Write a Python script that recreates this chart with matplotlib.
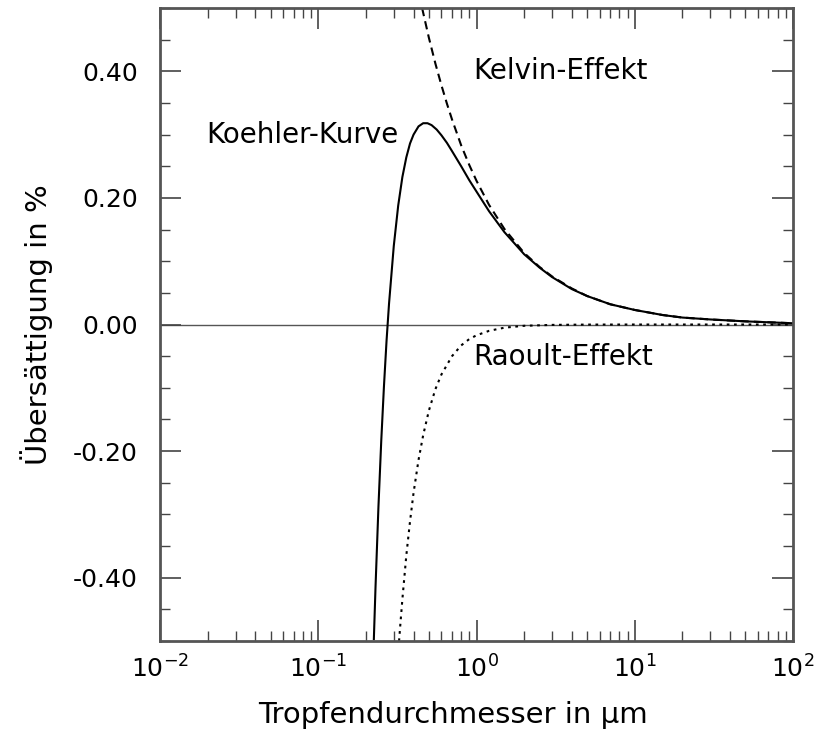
import matplotlib.pyplot as plt
from matplotlib.ticker import LogLocator, MultipleLocator, FuncFormatter

# droplet diameter (um) and supersaturation (%)
kelvin_d = [0.453, 0.5, 0.55, 0.6, 0.65, 0.7, 0.8, 0.9, 1.0, 1.2, 1.5, 2, 2.5, 3, 4, 5, 7,
            10, 15, 20, 30, 50, 100]
kelvin_s = [0.500, 0.453, 0.412, 0.378, 0.349, 0.324, 0.283, 0.252, 0.227, 0.189, 0.151,
            0.113, 0.091, 0.076, 0.057, 0.045, 0.032, 0.023, 0.015, 0.011, 0.008, 0.005, 0.002]

raoult_d = [0.324, 0.33, 0.34, 0.36, 0.38, 0.40, 0.43, 0.46, 0.5, 0.55, 0.6, 0.7, 0.8, 0.9,
            1.0, 1.2, 1.5, 2, 3, 5, 10, 100]
raoult_s = [-0.500, -0.474, -0.434, -0.365, -0.311, -0.266, -0.214, -0.175, -0.136, -0.102,
            -0.079, -0.050, -0.033, -0.023, -0.017, -0.010, -0.005, -0.002, -0.0006,
            -0.0001, 0.0, 0.0]

koehler_d = [0.2245, 0.23, 0.24, 0.25, 0.26, 0.27, 0.28, 0.30, 0.32, 0.34, 0.36, 0.38, 0.40,
             0.43, 0.46, 0.49, 0.52, 0.56, 0.60, 0.65, 0.70, 0.80, 0.90, 1.0, 1.2, 1.5, 2.0,
             2.5, 3, 4, 5, 7, 10, 15, 20, 30, 50, 100]
koehler_s = [-0.497, -0.415, -0.288, -0.184, -0.098, -0.026, 0.033, 0.124, 0.188, 0.233,
             0.264, 0.286, 0.300, 0.313, 0.318, 0.318, 0.315, 0.308, 0.299, 0.287, 0.274,
             0.250, 0.228, 0.210, 0.179, 0.146, 0.111, 0.090, 0.075, 0.056, 0.045, 0.032,
             0.023, 0.015, 0.011, 0.008, 0.005, 0.002]

plt.rcParams['font.family'] = ['DejaVu Sans']

fig = plt.figure(figsize=(8.14, 7.48), dpi=100)
ax = fig.add_axes([0.1966, 0.1430, 0.7776, 0.8463])

ax.axhline(0, color='#555555', lw=1.0, zorder=1)
ax.plot(kelvin_d, kelvin_s, color='black', lw=1.5, linestyle=(0, (4, 2.5)))
ax.plot(raoult_d, raoult_s, color='black', lw=1.5, linestyle=(0, (1.3, 2.2)))
ax.plot(koehler_d, koehler_s, color='black', lw=1.5)

ax.set_xscale('log')
ax.set_xlim(1e-2, 1e2)
ax.set_ylim(-0.5, 0.5)

ax.xaxis.set_major_locator(LogLocator(base=10, numticks=10))
ax.xaxis.set_minor_locator(LogLocator(base=10, subs=range(2, 10), numticks=20))
ax.yaxis.set_major_locator(MultipleLocator(0.2))
ax.yaxis.set_minor_locator(MultipleLocator(0.05))
ax.yaxis.set_major_formatter(FuncFormatter(lambda v, p: f"{v:.2f}"))

ax.tick_params(which='both', direction='in', top=True, right=True, colors='#444444',
               labelcolor='black', labelsize=18)
ax.tick_params(which='major', length=15, width=1.2)
ax.tick_params(which='minor', length=7, width=1.0)
ax.tick_params(axis='y', which='major', pad=16)
ax.tick_params(axis='x', which='major', pad=10)
for s in ax.spines.values():
    s.set_color('#555555')
    s.set_linewidth(2)

ax.text(0.957, 0.40, "Kelvin-Effekt", fontsize=20, va='center', ha='left')
ax.text(0.0196, 0.299, "Koehler-Kurve", fontsize=20, va='center', ha='left')
ax.text(0.957, -0.051, "Raoult-Effekt", fontsize=20, va='center', ha='left')

ax.set_xlabel("Tropfendurchmesser in µm", fontsize=21, labelpad=12)
ax.set_ylabel("Übersättigung in %", fontsize=21, labelpad=14)
ax.xaxis.set_label_coords(0.463, -0.095)

fig.savefig("out.png", dpi=100)
